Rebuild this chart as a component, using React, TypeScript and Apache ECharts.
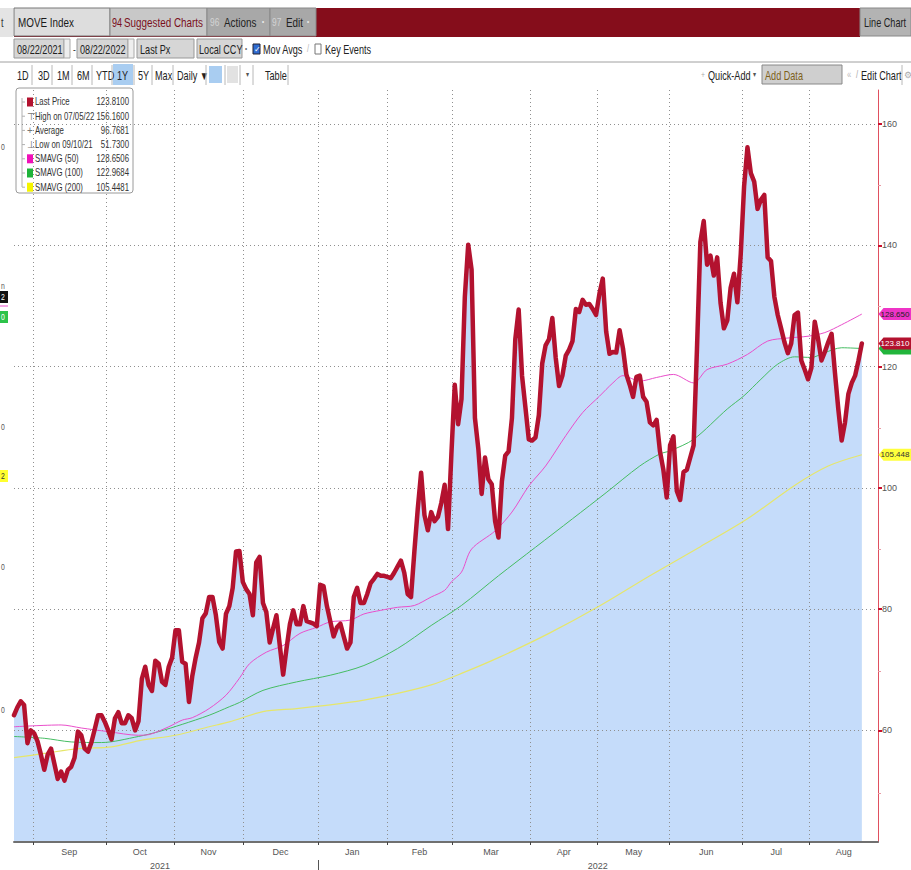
import React, { useEffect, useRef } from "react";
import * as echarts from "echarts";

// ---- data ----
// MOVE Index, last price, one value per trading day from 08/23/2021 to 08/22/2022
const lastPrice = [
  62.5, 63.8, 64.8, 64.2, 57.9, 60.0, 59.5, 58.2, 56.0, 53.5,
  56.0, 57.0, 54.5, 52.0, 53.2, 51.73, 53.5, 54.0, 55.5, 59.8,
  59.2, 57.0, 56.5, 58.0, 60.2, 62.5, 62.5, 61.4, 60.0, 58.5,
  62.0, 63.0, 61.2, 61.2, 62.5, 62.0, 60.0, 61.5, 68.5, 70.5,
  67.5, 66.5, 71.5, 71.0, 68.0, 67.5, 70.5, 72.0, 76.5, 76.5,
  71.3, 71.0, 64.7, 69.0, 72.0, 74.5, 78.5, 79.3, 82.0, 82.0,
  79.0, 74.6, 73.5, 79.2, 80.5, 83.5, 89.5, 89.6, 84.5, 83.3,
  82.5, 79.0, 87.7, 88.6, 81.0, 79.5, 74.5, 76.8, 79.0, 74.0,
  69.2, 73.5, 77.5, 79.8, 77.5, 77.5, 80.5, 78.0, 77.8, 77.6,
  77.2, 84.0, 83.8, 80.5, 78.0, 75.5, 77.0, 77.6, 75.5, 73.5,
  74.5, 82.0, 83.5, 81.0, 81.0, 82.5, 84.3, 85.0, 85.8, 85.5,
  85.5, 85.3, 85.1, 86.0, 87.0, 88.0, 86.0, 82.5, 82.0, 89.5,
  96.5, 102.5, 95.5, 93.0, 96.0, 94.5, 95.2, 97.5, 100.5, 93.2,
  105.5, 117.0, 110.5, 114.6, 131.5, 140.1, 136.0, 111.5, 106.5, 99.0,
  105.0, 101.4, 100.6, 94.5, 91.8, 101.0, 105.3, 106.0, 111.5, 124.5,
  129.4, 118.5, 113.3, 108.0, 107.8, 108.3, 112.0, 120.5, 123.5, 124.5,
  128.0, 121.5, 116.8, 118.5, 121.8, 122.8, 124.2, 129.5, 129.0, 131.0,
  130.2, 130.3, 129.5, 128.5, 132.0, 134.5, 125.8, 122.1, 122.4, 122.3,
  126.0, 123.0, 118.7, 117.0, 115.0, 118.3, 118.5, 115.0, 114.2, 110.8,
  110.3, 111.2, 106.0, 103.0, 98.4, 107.0, 108.5, 99.5, 98.0, 102.6,
  103.0, 105.0, 107.0, 123.0, 140.5, 144.0, 136.8, 138.3, 135.0, 138.0,
  130.5, 126.3, 127.6, 133.0, 135.3, 130.6, 138.5, 149.7, 156.16, 151.9,
  150.5, 146.0, 147.5, 148.3, 138.0, 137.4, 131.5, 128.5, 126.3, 124.0,
  122.2, 123.8, 128.5, 128.9, 121.0, 119.5, 117.9, 119.8, 127.4, 124.5,
  121.0, 122.4, 124.0, 125.4, 119.0, 113.0, 107.8, 110.8, 115.5, 117.3,
  118.5, 121.0, 123.81,
];

const sma50Day = [0, 14, 20, 28, 37, 40, 46, 50, 53, 58, 63, 67, 70, 75, 80, 85, 90, 94, 100, 104, 109, 114, 119, 124, 128, 130, 133, 136, 143, 148, 153, 158, 164, 169, 174, 178, 181, 186, 191, 196, 202, 206, 212, 218, 224, 230, 236, 241, 246, 252];
const sma50Val = [60.6, 60.9, 60.4, 59.8, 59.2, 59.3, 60.6, 61.7, 62.1, 63.6, 65.8, 68.6, 71.0, 72.9, 74.0, 76.0, 77.0, 77.9, 78.2, 79.2, 79.8, 80.3, 80.6, 82.0, 83.1, 84.5, 86.1, 89.9, 92.9, 96.0, 100.3, 103.6, 108.6, 112.4, 115.1, 117.3, 118.5, 117.6, 118.2, 118.7, 117.3, 119.5, 120.4, 122.0, 124.2, 124.7, 125.0, 125.6, 126.9, 128.65];

const sma100Day = [0, 9, 17, 26, 37, 43, 50, 58, 64, 67, 74, 84, 94, 104, 114, 124, 133, 144, 155, 166, 176, 186, 192, 195, 202, 212, 217, 222, 227, 232, 237, 241, 246, 252];
const sma100Val = [59.0, 58.7, 58.1, 58.0, 59.0, 59.8, 61.0, 62.5, 63.9, 64.6, 66.6, 68.0, 69.1, 70.7, 73.5, 77.3, 80.6, 85.5, 90.2, 94.9, 99.2, 103.6, 105.6, 106.1, 108.0, 113.0, 115.2, 117.9, 120.4, 121.6, 121.5, 122.3, 123.1, 122.97];

const sma200Day = [0, 9, 19, 29, 38, 48, 58, 64, 74, 84, 94, 104, 114, 124, 133, 144, 159, 174, 189, 204, 218, 232, 242, 252];
const sma200Val = [55.5, 56.2, 57.0, 57.3, 58.4, 59.2, 60.6, 61.4, 63.1, 63.6, 64.2, 65.0, 66.1, 67.5, 69.4, 72.0, 76.0, 80.5, 85.5, 90.3, 94.9, 100.4, 103.6, 105.45];

// x axis (trading-day index)
const monthNames = ["Sep", "Oct", "Nov", "Dec", "Jan", "Feb", "Mar", "Apr", "May", "Jun", "Jul", "Aug"];
const monthStartDay = [5.6, 27.3, 47.5, 68.1, 90.3, 110.8, 130.2, 153.3, 173.5, 194.9, 216.6, 236.5];
const yearNames = ["2021", "2022"];
const yearLabelDay = [43.4, 173.5];
const yearBreakDay = [90.3];
const X_MAX = 256.8;

// y axis
const yTicks = [60, 80, 100, 120, 140, 160];
const yMinorTicks = [50, 70, 90, 110, 130, 150];
const Y_MIN = 41.6;
const Y_MAX = 165.6;

// legend box
const legendLabels = ["Last Price", "High on 07/05/22", "Average", "Low on 09/10/21", "SMAVG (50)", "SMAVG (100)", "SMAVG (200)"];
const legendValues = ["123.8100", "156.1600", "96.7681", "51.7300", "128.6506", "122.9684", "105.4481"];

// right-hand tags
const tagPrice = 123.81;
const tagSma50 = 128.65;
const tagSma100 = 122.968;
const tagSma200 = 105.448;

// ---- styles ----
const FONT = '"Liberation Sans", Arial, sans-serif';
const SQ = 0.76; // horizontal squeeze of the narrow terminal font
const PRICE = "#b3122f";
const FILL = "#c5dcfa";
const C50 = "#ea4fcb";
const C100 = "#45bd62";
const C200 = "#e6e66a";

function txt(x: number, y: number, text: string, size: number, fill: string, extra: any = {}, sx = SQ) {
  return {
    type: "text",
    x,
    y,
    scaleX: sx,
    silent: true,
    style: { text, fontSize: size, fontFamily: FONT, fill, verticalAlign: "middle", align: "left", ...extra },
  };
}
function box(x: number, y: number, w: number, h: number, fill: string, stroke?: string, r = 0) {
  return {
    type: "rect",
    silent: true,
    shape: { x, y, width: w, height: h, r },
    style: { fill, stroke: stroke || "none", lineWidth: 1 },
  };
}
function vline(x: number, y1: number, y2: number, stroke: string) {
  return { type: "line", silent: true, shape: { x1: x, y1, x2: x, y2 }, style: { stroke, lineWidth: 1 } };
}
function hline(x1: number, x2: number, y: number, stroke: string) {
  return { type: "line", silent: true, shape: { x1, y1: y, x2, y2: y }, style: { stroke, lineWidth: 1 } };
}

function buildGraphics() {
  const g: any[] = [];
  // row 1
  g.push(box(0, 8, 13, 29, "#e4e4e4"));
  g.push(txt(1, 22, "t", 12, "#333"));
  g.push(box(14, 8, 846, 29, "#850d1b"));
  g.push(box(14, 8, 96, 28, "#dddddd", "#777"));
  g.push(txt(18, 22, "MOVE Index", 13, "#1a1a1a"));
  g.push(box(110, 8, 97, 28, "#c8c8c8", "#888"));
  g.push(txt(112, 22, "94", 12, "#7a0f1c"));
  g.push(txt(124, 22, "Suggested Charts", 13, "#7a0f1c"));
  g.push(box(207, 8, 63, 28, "#a8a8a8", "#888"));
  g.push(txt(210, 22, "96", 11, "#d4d4d4"));
  g.push(txt(224, 22, "Actions", 13, "#222"));
  g.push(txt(262, 22, "•", 8, "#eee"));
  g.push(box(270, 8, 46, 28, "#a8a8a8", "#888"));
  g.push(txt(272, 22, "97", 11, "#d4d4d4"));
  g.push(txt(286, 22, "Edit", 13, "#222"));
  g.push(txt(307, 22, "•", 8, "#eee"));
  g.push(box(860, 8, 51, 28, "#b3b3b3", "#888"));
  g.push(txt(864, 22, "Line Chart", 12, "#222"));
  // row 2
  g.push(box(14, 39, 50, 19, "#d6d6d6", "#999"));
  g.push(txt(17, 49, "08/22/2021", 12, "#222"));
  g.push(box(64, 39, 6, 19, "#eeeeee", "#aaa"));
  g.push(txt(73, 49, "-", 11, "#333"));
  g.push(box(77, 39, 51, 19, "#d6d6d6", "#999"));
  g.push(txt(80, 49, "08/22/2022", 12, "#222"));
  g.push(box(128, 39, 6, 19, "#eeeeee", "#aaa"));
  g.push(box(137, 39, 57, 19, "#d6d6d6", "#999"));
  g.push(txt(140, 49, "Last Px", 12, "#222"));
  g.push(box(197, 39, 45, 19, "#d6d6d6", "#999"));
  g.push(txt(199, 49, "Local CCY", 12, "#222"));
  g.push(txt(245, 49, "•", 8, "#666"));
  g.push(box(253, 44, 7, 10, "#2f6bd0", "#223"));
  g.push(txt(254, 49, "✓", 8, "#fff", {}, 1));
  g.push(txt(263, 49, "Mov Avgs", 12, "#222"));
  g.push(txt(307, 49, "/", 10, "#bbb"));
  g.push(box(315, 44, 6, 10, "#ffffff", "#777"));
  g.push(txt(325, 49, "Key Events", 12, "#222"));
  // row 3
  g.push(hline(0, 911, 62, "#a0a0a0"));
  g.push(box(113, 64, 20, 21, "#a9cdf1"));
  const btns: [string, number][] = [["1D", 17], ["3D", 38], ["1M", 57], ["6M", 77], ["YTD", 96], ["1Y", 117], ["5Y", 138], ["Max", 155], ["Daily ▼", 177]];
  btns.forEach(([t, x]) => g.push(txt(x, 75, t, 12, "#222")));
  [32, 52, 72, 92, 112, 134, 152, 173, 206, 225, 240, 253, 288].forEach((x) => g.push(vline(x, 65, 85, "#b8b8b8")));
  g.push(box(209, 66, 13, 17, "#a9cdf1"));
  g.push(box(227, 66, 11, 17, "#e2e2e2"));
  g.push(txt(246, 75, "▾", 8, "#555"));
  g.push(txt(265, 75, "Table", 12, "#222"));
  g.push(txt(701, 75, "+", 9, "#aaa"));
  g.push(txt(708, 75, "Quick-Add", 12, "#222"));
  g.push(txt(753, 75, "▾", 8, "#555"));
  g.push(box(762, 65, 80, 19, "#cfcfcf", "#888"));
  g.push(txt(765, 75, "Add Data", 12, "#7d5f1a"));
  g.push(txt(847, 75, "«", 10, "#bbb"));
  g.push(txt(856, 75, "/", 10, "#aaa"));
  g.push(txt(861, 75, "Edit Chart", 12, "#222"));
  g.push(vline(902, 65, 85, "#b8b8b8"));
  g.push(txt(904, 75, "⚙", 9, "#aaa", {}, 1));
  // left edge (cut-off pane)
  [147, 427, 567, 710].forEach((y) => g.push(txt(1, y, "0", 9, "#555")));
  g.push(txt(1, 286, "n", 9, "#555"));
  g.push(box(0, 291, 8, 12, "#111111"));
  g.push(txt(1, 297, "2", 9, "#ffffff"));
  g.push(hline(0, 8, 306, C50));
  g.push(box(0, 311, 8, 12, "#2cc34a"));
  g.push(txt(1, 317, "0", 9, "#ffffff"));
  g.push(box(0, 470, 8, 12, "#ffff30"));
  g.push(txt(1, 476, "2", 9, "#333"));
  // legend box
  const lx = 16;
  const ly = 88;
  g.push(box(lx, ly, 117, 105, "#ffffff", "#9a9a9a", 3));
  g.push(vline(lx + 6, ly + 10, ly + 99, "#b0b0b0"));
  const icons = [
    { kind: "sq", c: PRICE },
    { kind: "glyph", t: "⊤" },
    { kind: "glyph", t: "+" },
    { kind: "glyph", t: "⊥" },
    { kind: "sq", c: "#f011b8" },
    { kind: "sq", c: "#1fb33a" },
    { kind: "sq", c: "#f5f500" },
  ];
  legendLabels.forEach((lab, i) => {
    const cy = ly + 14 + i * 14.2;
    g.push(hline(lx + 6, lx + 9, cy, "#b0b0b0"));
    const ic = icons[i];
    if (ic.kind === "sq") g.push(box(lx + 11, cy - 4.5, 6, 9, ic.c as string));
    else g.push(txt(lx + 11, cy, ic.t as string, 10, "#777", {}, 1));
    g.push(txt(lx + 19, cy, lab, 10, "#333", {}, 0.78));
    g.push(txt(lx + 113, cy, legendValues[i], 10, "#333", { align: "right" }, 0.78));
  });
  return g;
}

function tag(value: number, text: string, bg: string, fg: string, showText = true) {
  return {
    symbol: "path://M0,6 L5,0 L45,0 L45,12 L5,12 Z",
    symbolSize: [45, 12],
    symbolKeepAspect: false,
    symbolOffset: [23, 0],
    silent: true,
    itemStyle: { color: bg },
    label: { show: showText, position: "inside", offset: [-6, 0], color: fg, fontSize: 8, fontFamily: FONT, formatter: text },
    data: [{ coord: [X_MAX, value] }],
  };
}

function buildOption() {
  const monthMid = monthStartDay.map((s, i) => (s + (i + 1 < monthStartDay.length ? monthStartDay[i + 1] : X_MAX)) / 2);
  const pricePairs = lastPrice.map((v, i) => [i, v]);
  const gridBox = { left: 14, right: 33, top: 90, bottom: 26, containLabel: false };
  return {
    animation: false,
    backgroundColor: "#ffffff",
    textStyle: { fontFamily: FONT },
    grid: [gridBox, { ...gridBox }],
    xAxis: [
      {
        type: "value",
        gridIndex: 0,
        min: 0,
        max: X_MAX,
        position: "bottom",
        axisLine: { show: true, onZero: false, lineStyle: { color: "#707070", width: 2 } },
        axisTick: { show: true, customValues: monthStartDay, length: 3, lineStyle: { color: "#444" } },
        axisLabel: {
          show: true,
          customValues: monthMid,
          margin: 5,
          fontSize: 9,
          color: "#555",
          fontFamily: FONT,
          formatter: (v: number) => {
            const i = monthMid.indexOf(v);
            return i >= 0 ? monthNames[i] : "";
          },
        },
        splitLine: { show: true, lineStyle: { color: "#8f8f8f", type: [1, 3], width: 1 } },
      },
      {
        type: "value",
        gridIndex: 0,
        min: 0,
        max: X_MAX,
        position: "bottom",
        offset: 18,
        axisLine: { show: false, onZero: false },
        axisTick: { show: true, customValues: yearBreakDay, length: 10, lineStyle: { color: "#555" } },
        axisLabel: {
          show: true,
          customValues: yearLabelDay,
          margin: 1,
          fontSize: 9,
          color: "#555",
          fontFamily: FONT,
          formatter: (v: number) => {
            const i = yearLabelDay.indexOf(v);
            return i >= 0 ? yearNames[i] : "";
          },
        },
        splitLine: { show: false },
      },
      {
        type: "value",
        gridIndex: 1,
        min: 0,
        max: X_MAX,
        show: false,
      },
    ],
    yAxis: [
      {
        type: "value",
        gridIndex: 0,
        position: "right",
        min: Y_MIN,
        max: Y_MAX,
        axisLine: { show: true, onZero: false, lineStyle: { color: "#e0505f", width: 1 } },
        axisTick: { show: true, customValues: yTicks, length: 4, lineStyle: { color: "#c8102e", width: 2 } },
        axisLabel: { show: true, customValues: yTicks, margin: 4, fontSize: 9, color: "#555", fontFamily: FONT },
        splitLine: { show: true, lineStyle: { color: "#8f8f8f", type: [1, 3], width: 1 } },
      },
      {
        type: "value",
        gridIndex: 1,
        position: "right",
        min: Y_MIN,
        max: Y_MAX,
        axisLine: { show: false, onZero: false },
        axisTick: { show: true, customValues: yMinorTicks, length: 3, lineStyle: { color: "#e89aa4" } },
        axisLabel: { show: false },
        splitLine: { show: false },
      },
    ],
    series: [
      {
        name: "area",
        type: "line",
        z: -1,
        xAxisIndex: 0,
        yAxisIndex: 0,
        data: pricePairs,
        showSymbol: false,
        symbol: "none",
        lineStyle: { width: 0, opacity: 0 },
        areaStyle: { color: FILL, opacity: 1, origin: "start" },
        silent: true,
      },
      {
        name: "SMAVG (200)",
        type: "line",
        z: 3,
        xAxisIndex: 0,
        yAxisIndex: 0,
        data: sma200Day.map((d, i) => [d, sma200Val[i]]),
        showSymbol: false,
        symbol: "none",
        smooth: 0.3,
        lineStyle: { color: C200, width: 1.2 },
        markPoint: tag(tagSma200, "105.448", "#ffff3c", "#333"),
        silent: true,
      },
      {
        name: "SMAVG (100)",
        type: "line",
        z: 4,
        xAxisIndex: 0,
        yAxisIndex: 0,
        data: sma100Day.map((d, i) => [d, sma100Val[i]]),
        showSymbol: false,
        symbol: "none",
        smooth: 0.3,
        lineStyle: { color: C100, width: 1 },
        markPoint: tag(tagSma100, "122.968", "#22b53c", "#fff", false),
        silent: true,
      },
      {
        name: "SMAVG (50)",
        type: "line",
        z: 5,
        xAxisIndex: 0,
        yAxisIndex: 0,
        data: sma50Day.map((d, i) => [d, sma50Val[i]]),
        showSymbol: false,
        symbol: "none",
        smooth: 0.3,
        lineStyle: { color: C50, width: 1 },
        markPoint: tag(tagSma50, "128.650", "#ee34c6", "#222"),
        silent: true,
      },
      {
        name: "Last Price",
        type: "line",
        z: 6,
        xAxisIndex: 0,
        yAxisIndex: 0,
        data: pricePairs,
        showSymbol: false,
        symbol: "none",
        lineStyle: { color: PRICE, width: 4.5, join: "round", cap: "round" },
        markPoint: tag(tagPrice, "123.810", PRICE, "#ffffff"),
        silent: true,
      },
    ],
    graphic: buildGraphics(),
  };
}

export default function App() {
  const ref = useRef<HTMLDivElement>(null);
  useEffect(() => {
    if (!ref.current) return;
    const chart = echarts.init(ref.current, null, { renderer: "svg" });
    chart.setOption(buildOption() as any);
    return () => chart.dispose();
  }, []);
  return (
    <div
      ref={ref}
      style={{ position: "absolute", left: 0, top: 0, width: 911, height: 870, background: "#ffffff" }}
    />
  );
}
